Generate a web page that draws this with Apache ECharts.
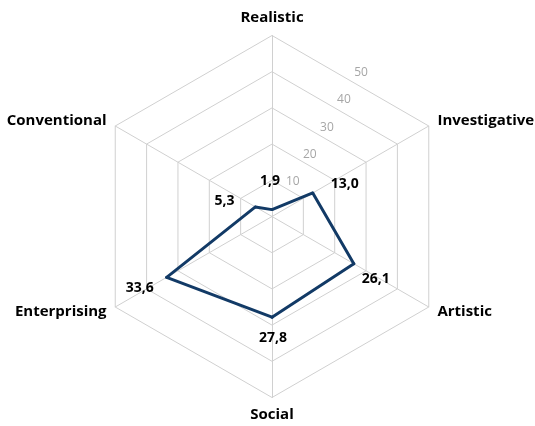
<!DOCTYPE html>
<html>
<head>
<meta charset="utf-8">
<script src="https://cdn.jsdelivr.net/npm/echarts@6/dist/echarts.min.js"></script>
<style>
  html, body { margin: 0; padding: 0; background: #fff; }
  #chart { width: 535px; height: 426px; }
</style>
</head>
<body>
<div id="chart"></div>
<script>
// indicators listed counterclockwise from the top (echarts radar order)
var categories = ['Realistic', 'Conventional', 'Enterprising', 'Social', 'Artistic', 'Investigative'];
var scores = [1.9, 5.3, 33.6, 27.8, 26.1, 13.0];
var tickValues = [10, 20, 30, 40, 50];
var maxValue = 50;

var cx = 272, cy = 216.5;
// label offsets by direction, clockwise from top
var labelOffsets = [[-2, -29], [32, -9], [22, 15], [1, 21], [-27, 11], [-31, -6]];

var myChart = echarts.init(document.getElementById('chart'));
var option = {
    animation: false,
    textStyle: { fontFamily: 'Open Sans' },
    radar: {
        center: [cx, cy],
        radius: 181,
        startAngle: 90,
        shape: 'polygon',
        splitNumber: tickValues.length,
        indicator: categories.map(function (c) { return { name: c, min: 0, max: maxValue }; }),
        axisName: {
            color: '#000',
            fontWeight: 'bold',
            fontSize: 15,
            fontFamily: 'Open Sans'
        },
        nameGap: 10,
        axisLine: { lineStyle: { color: '#d0d0d0', width: 1 } },
        splitLine: { lineStyle: { color: '#d0d0d0', width: 1 } },
        splitArea: { show: false },
        axisLabel: { show: false }
    },
    // tick labels (10..50) sit along a slanted line, drawn with a polar radius axis
    polar: {
        center: [275.7, 209],
        radius: 161
    },
    angleAxis: {
        show: false,
        startAngle: 58,
        min: 0,
        max: 360
    },
    radiusAxis: {
        min: 0,
        max: maxValue,
        interval: 10,
        axisLine: { show: false },
        axisTick: { show: false },
        splitLine: { show: false },
        axisLabel: {
            showMinLabel: false,
            margin: 0,
            align: 'center',
            verticalAlign: 'middle',
            color: '#a6a6a6',
            fontSize: 12,
            fontFamily: 'Open Sans'
        }
    },
    series: [
        {
            type: 'radar',
            symbol: 'circle',
            symbolSize: 3,
            itemStyle: { color: '#123a66' },
            lineStyle: { color: '#123a66', width: 3 },
            data: [{ value: scores, name: 'Score' }],
            label: {
                show: true,
                color: '#000',
                fontWeight: 'bold',
                fontSize: 14,
                fontFamily: 'Open Sans',
                formatter: function (p) {
                    return Number(p.value).toFixed(1).replace('.', ',');
                }
            },
            labelLayout: function (params) {
                var r = params.rect;
                var px = r.x + r.width / 2, py = r.y + r.height / 2;
                var ang = Math.atan2(px - cx, cy - py) * 180 / Math.PI; // clockwise from top
                if (ang < 0) ang += 360;
                var idx = Math.round(ang / 60) % 6;
                var o = labelOffsets[idx];
                return { x: px + o[0], y: py + o[1], align: 'center', verticalAlign: 'middle' };
            }
        }
    ]
};
myChart.setOption(option);
</script>
</body>
</html>
